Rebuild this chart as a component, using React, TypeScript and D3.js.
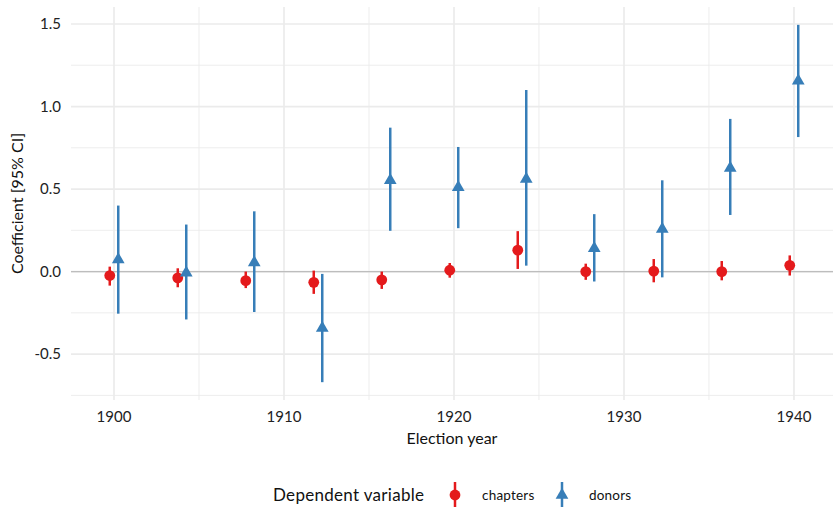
import * as d3 from "d3";

const years = [1900, 1904, 1908, 1912, 1916, 1920, 1924, 1928, 1932, 1936, 1940];

const chaptersEst = [-0.024, -0.038, -0.055, -0.065, -0.05, 0.008, 0.13, 0.0, 0.003, 0.0, 0.038];
const chaptersLow = [-0.085, -0.095, -0.1, -0.135, -0.105, -0.037, 0.016, -0.05, -0.065, -0.053, -0.024];
const chaptersHigh = [0.03, 0.02, 0.0, 0.006, 0.0, 0.052, 0.245, 0.048, 0.076, 0.064, 0.098];

const donorsEst = [0.073, -0.007, 0.055, -0.342, 0.553, 0.51, 0.56, 0.141, 0.257, 0.627, 1.155];
const donorsLow = [-0.255, -0.29, -0.245, -0.67, 0.247, 0.263, 0.036, -0.06, -0.035, 0.343, 0.815];
const donorsHigh = [0.4, 0.285, 0.365, -0.014, 0.872, 0.755, 1.1, 0.348, 0.553, 0.925, 1.495];

const xTicks = [1900, 1910, 1920, 1930, 1940];
const xMinor = [1905, 1915, 1925, 1935];
const yTicks = [-0.5, 0, 0.5, 1, 1.5];
const yMinor = [-0.75, -0.25, 0.25, 0.75, 1.25];

const RED = "#E41A1C";
const BLUE = "#377EB8";
const GRID = "#ebebeb";
const FONT = "Lato, 'Open Sans', sans-serif";

const width = 833;
const height = 507;
const panel = { left: 71, right: 837, top: 7, bottom: 400 };
const dodge = 0.25;

export default function App() {
  const x = d3.scaleLinear().domain([1897.47, 1942.53]).range([panel.left, panel.right]);
  const y = d3.scaleLinear().domain([-0.778, 1.603]).range([panel.bottom, panel.top]);
  const tri = d3.symbol().type(d3.symbolTriangle).size(70)();
  const fmt = (t: number) => d3.format(".1f")(t).replace("−", "-");

  const chapters = years.map((yr, i) => ({ yr, est: chaptersEst[i], lo: chaptersLow[i], hi: chaptersHigh[i] }));
  const donors = years.map((yr, i) => ({ yr, est: donorsEst[i], lo: donorsLow[i], hi: donorsHigh[i] }));

  return (
    <svg
      width={width}
      height={height}
      style={{ position: "absolute", left: 0, top: 0, background: "#fff" }}
      fontFamily={FONT}
    >
      <defs>
        <clipPath id="panel">
          <rect x={panel.left} y={panel.top} width={panel.right - panel.left} height={panel.bottom - panel.top} />
        </clipPath>
      </defs>
      <g clipPath="url(#panel)">
        {yMinor.map((t) => (
          <line key={"ym" + t} x1={panel.left} x2={panel.right} y1={y(t)} y2={y(t)} stroke={GRID} strokeWidth={0.9} />
        ))}
        {xMinor.map((t) => (
          <line key={"xm" + t} x1={x(t)} x2={x(t)} y1={panel.top} y2={panel.bottom} stroke={GRID} strokeWidth={0.9} />
        ))}
        {yTicks.map((t) => (
          <line key={"y" + t} x1={panel.left} x2={panel.right} y1={y(t)} y2={y(t)} stroke={GRID} strokeWidth={1.7} />
        ))}
        {xTicks.map((t) => (
          <line key={"x" + t} x1={x(t)} x2={x(t)} y1={panel.top} y2={panel.bottom} stroke={GRID} strokeWidth={1.7} />
        ))}
        <line x1={panel.left} x2={panel.right} y1={y(0)} y2={y(0)} stroke="#bdbdbd" strokeWidth={1.4} />
        {chapters.map((d) => (
          <g key={"c" + d.yr}>
            <line x1={x(d.yr - dodge)} x2={x(d.yr - dodge)} y1={y(d.lo)} y2={y(d.hi)} stroke={RED} strokeWidth={2.5} />
            <circle cx={x(d.yr - dodge)} cy={y(d.est)} r={5.4} fill={RED} />
          </g>
        ))}
        {donors.map((d) => (
          <g key={"d" + d.yr}>
            <line x1={x(d.yr + dodge)} x2={x(d.yr + dodge)} y1={y(d.lo)} y2={y(d.hi)} stroke={BLUE} strokeWidth={2.5} />
            <path d={tri ?? ""} transform={`translate(${x(d.yr + dodge)},${y(d.est)})`} fill={BLUE} />
          </g>
        ))}
      </g>

      {yTicks.map((t) => (
        <text key={"yl" + t} x={61} y={y(t)} dy="0.35em" textAnchor="end" fontSize={15} fill="#222">
          {fmt(t)}
        </text>
      ))}
      {xTicks.map((t) => (
        <text key={"xl" + t} x={x(t)} y={422} textAnchor="middle" fontSize={15} fill="#222">
          {t}
        </text>
      ))}
      <text x={(panel.left + 833) / 2} y={444} textAnchor="middle" fontSize={16} fill="#111">
        Election year
      </text>
      <text
        transform={`translate(23,${(panel.top + panel.bottom) / 2}) rotate(-90)`}
        textAnchor="middle"
        fontSize={16}
        fill="#111"
      >
        Coefficient [95% CI]
      </text>

      <text x={273} y={501} fontSize={17} letterSpacing={0.3} fill="#111">Dependent variable</text>
      <line x1={455} x2={455} y1={482} y2={510} stroke={RED} strokeWidth={2.5} />
      <circle cx={455} cy={495} r={5.4} fill={RED} />
      <text x={482} y={500} fontSize={13.5} letterSpacing={0.2} fill="#111">chapters</text>
      <line x1={562} x2={562} y1={482} y2={510} stroke={BLUE} strokeWidth={2.5} />
      <path d={tri ?? ""} transform="translate(562,495)" fill={BLUE} />
      <text x={589} y={500} fontSize={13.5} letterSpacing={0.2} fill="#111">donors</text>
    </svg>
  );
}
